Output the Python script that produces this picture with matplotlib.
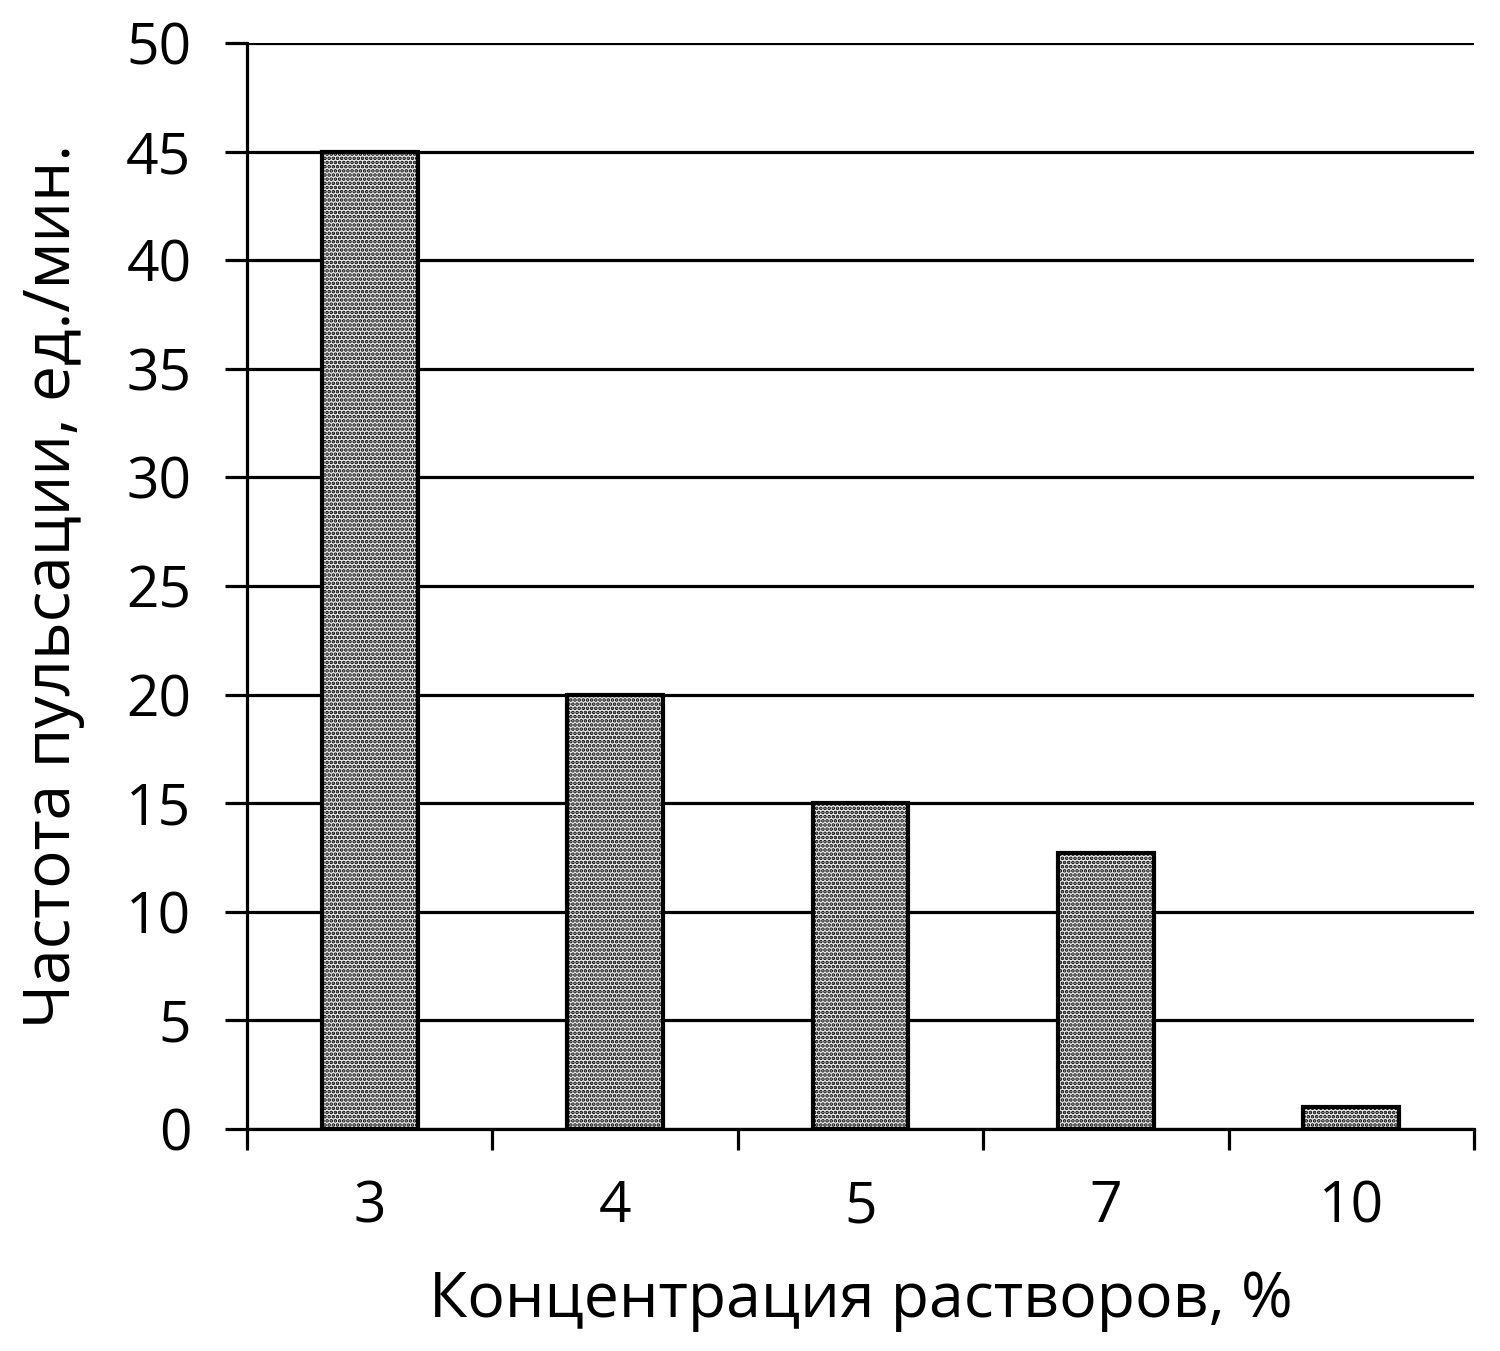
import numpy as np
import matplotlib.pyplot as plt
from matplotlib.ticker import FixedLocator

categories = ['3', '4', '5', '7', '10']
values = [45, 20, 15, 12.7, 1]
yticks = [0, 5, 10, 15, 20, 25, 30, 35, 40, 45, 50]

plt.rcParams['font.family'] = ['Open Sans', 'DejaVu Sans']
plt.rcParams['hatch.linewidth'] = 1.8
plt.rcParams['hatch.color'] = '#202020'

fig = plt.figure(figsize=(15, 13.51), dpi=100)
ax = fig.add_axes([0.1647, 0.1643, 0.818, 0.8039])

x = np.arange(len(categories))
ax.set_axisbelow(True)
ax.yaxis.grid(True, color='black', linewidth=2.3)
ax.bar(x, values, width=0.39, facecolor='#ececec', edgecolor='black',
       linewidth=3, hatch='....', zorder=3)

ax.set_xlim(-0.5, len(categories) - 0.5)
ax.set_ylim(0, 50)
ax.set_yticks(yticks)
ax.set_xticks(x)
ax.set_xticklabels(categories)
ax.xaxis.set_minor_locator(FixedLocator(np.arange(-0.5, len(categories), 1.0)))

ax.tick_params(axis='y', length=16, width=2.3, labelsize=41, pad=24)
ax.tick_params(axis='x', which='major', length=0, labelsize=41, pad=36)
ax.tick_params(axis='x', which='minor', length=15, width=2.3)

for s in ['top', 'right']:
    ax.spines[s].set_visible(False)
for s in ['left', 'bottom']:
    ax.spines[s].set_linewidth(2.3)

ax.set_xlabel('Концентрация растворов, %', fontsize=45, labelpad=24)
ax.set_ylabel('Частота пульсации, ед./мин.', fontsize=46, labelpad=30)

fig.savefig('out.png', dpi=100)
